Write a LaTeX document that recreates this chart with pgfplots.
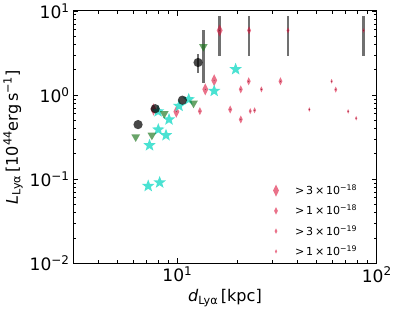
\documentclass[border=0pt]{standalone}
\usepackage{fontspec}
\setmainfont{DejaVu Sans}
\usepackage{pgfplots}
\pgfplotsset{compat=1.18}
\definecolor{crim}{RGB}{220,20,60}
\definecolor{turq}{RGB}{64,224,208}
\definecolor{grn}{RGB}{25,115,25}
\definecolor{dotc}{RGB}{110,20,40}
\pgfdeclareplotmark{fstar}{%
 \pgfpathmoveto{\pgfpointpolar{90}{\pgfplotmarksize}}%
 \pgfpathlineto{\pgfpointpolar{126}{0.42\pgfplotmarksize}}%
 \pgfpathlineto{\pgfpointpolar{162}{\pgfplotmarksize}}%
 \pgfpathlineto{\pgfpointpolar{198}{0.42\pgfplotmarksize}}%
 \pgfpathlineto{\pgfpointpolar{234}{\pgfplotmarksize}}%
 \pgfpathlineto{\pgfpointpolar{270}{0.42\pgfplotmarksize}}%
 \pgfpathlineto{\pgfpointpolar{306}{\pgfplotmarksize}}%
 \pgfpathlineto{\pgfpointpolar{342}{0.42\pgfplotmarksize}}%
 \pgfpathlineto{\pgfpointpolar{18}{\pgfplotmarksize}}%
 \pgfpathlineto{\pgfpointpolar{54}{0.42\pgfplotmarksize}}%
 \pgfpathclose
 \pgfusepathqfill}
\pgfplotsset{
 dia/.style={only marks, mark=diamond*, color=crim, mark options={xscale=0.65, draw opacity=0, fill=crim, fill opacity=0.6}},
}
\begin{document}
\begin{tikzpicture}
\begin{axis}[
 xmode=log, ymode=log,
 scale only axis, width=302pt, height=251pt,
 xmin=3, xmax=100, ymin=0.01, ymax=10,
 xtick={10,100}, xticklabels={10\textsuperscript{1},10\textsuperscript{2}},
 minor xtick={3,4,5,6,7,8,9,20,30,40,50,60,70,80,90},
 ytick={0.01,0.1,1,10}, yticklabels={10\textsuperscript{−2},10\textsuperscript{−1},10\textsuperscript{0},10\textsuperscript{1}},
 minor ytick={0.02,0.03,0.04,0.05,0.06,0.07,0.08,0.09,0.2,0.3,0.4,0.5,0.6,0.7,0.8,0.9,2,3,4,5,6,7,8,9},
 tick label style={font=\fontsize{17}{20}\selectfont},
 label style={font=\fontsize{16}{19}\selectfont},
 xlabel={\textit{d}\textsubscript{Lyα}\,[kpc]},
 ylabel={\textit{L}\textsubscript{Lyα}\,[10\textsuperscript{44}erg\,s\textsuperscript{−1}]},
 axis line style={line width=1pt},
 tick style={black, line width=0.8pt},
 major tick length=5pt, minor tick length=3pt,
 legend style={draw=none, fill=none, at={(0.648,0.008)}, anchor=south west,
   font=\fontsize{11}{13}\selectfont, row sep=5pt},
 legend cell align=left,
]
% error bars
\addplot[forget plot, draw=black!70, draw opacity=0.8, line width=2.5pt] coordinates {(16.3,2.92) (16.3,8.8)};
\addplot[forget plot, draw=black!70, draw opacity=0.8, line width=2.5pt] coordinates {(22.9,2.92) (22.9,8.8)};
\addplot[forget plot, draw=black!70, draw opacity=0.8, line width=2.5pt] coordinates {(35.9,2.92) (35.9,8.8)};
\addplot[forget plot, draw=black!70, draw opacity=0.8, line width=2.5pt] coordinates {(85.9,2.92) (85.9,8.8)};
\addplot[forget plot, draw=black!70, draw opacity=0.8, line width=2.5pt] coordinates {(12.7,1.85) (12.7,3.06)};
\addplot[forget plot, draw=black!70, draw opacity=0.8, line width=2.5pt] coordinates {(13.5,1.41) (13.5,5.98)};
% diamonds
\addplot[forget plot, dia, mark size=6pt]
 coordinates {(16.3,5.87) (13.8,1.17) (15.3,1.50) (9.88,0.634) (7.59,0.674)};
\addplot[forget plot, dia, mark size=4pt]
 coordinates {(22.9,5.87) (12.97,0.644) (18.4,0.674) (20.8,0.513) (20.8,1.17) (22.8,1.46) (32.9,1.46)};
\addplot[forget plot, dia, mark size=3pt]
 coordinates {(35.9,5.87) (26.4,1.17) (23.2,0.644) (24.4,0.66) (62.3,1.16)};
\addplot[forget plot, dia, mark size=2.3pt]
 coordinates {(85.9,5.87) (59.4,1.46) (45.9,0.674) (71.9,0.64) (78.9,0.53)};
\addplot[forget plot, only marks, color=dotc, mark=*, mark size=0.5pt, mark options={draw opacity=0, fill=dotc, fill opacity=0.8}]
 coordinates {(16.3,5.87) (13.8,1.17) (15.3,1.50) (9.88,0.634) (7.59,0.674)
 (22.9,5.87) (12.97,0.644) (18.4,0.674) (20.8,0.513) (20.8,1.17) (22.8,1.46) (32.9,1.46)
 (35.9,5.87) (26.4,1.17) (23.2,0.644) (24.4,0.66) (62.3,1.16)
 (85.9,5.87) (59.4,1.46) (45.9,0.674) (71.9,0.64) (78.9,0.53)};
% stars
\addplot[forget plot, only marks, color=turq, mark=fstar, mark size=6.5pt, mark options={fill=turq, fill opacity=0.95}]
 coordinates {(7.14,0.083) (8.15,0.0914) (7.25,0.253) (8.02,0.389) (8.77,0.333) (9.08,0.513) (8.0,0.64) (10.2,0.743) (11.4,0.89) (15.3,1.12) (19.6,2.03)};
% triangles
\addplot[forget plot, only marks, color=grn, mark=triangle*, mark size=5pt, mark options={rotate=180, draw opacity=0, fill=grn, fill opacity=0.65}]
 coordinates {(6.18,0.318) (7.45,0.333) (8.59,0.60) (12.05,0.80) (13.5,3.78)};
% circles
\addplot[forget plot, only marks, color=black, mark=*, mark size=4.6pt, mark options={draw opacity=0, fill=black, fill opacity=0.72}]
 coordinates {(6.35,0.446) (7.74,0.689) (10.6,0.87) (12.7,2.44)};
% legend
\addlegendimage{dia, mark size=6pt}
\addlegendentry{\hspace{14pt}>\,3\,×\,10\textsuperscript{−18}}
\addlegendimage{dia, mark size=3.8pt}
\addlegendentry{\hspace{14pt}>\,1\,×\,10\textsuperscript{−18}}
\addlegendimage{dia, mark size=2.8pt}
\addlegendentry{\hspace{14pt}>\,3\,×\,10\textsuperscript{−19}}
\addlegendimage{dia, mark size=2.2pt}
\addlegendentry{\hspace{14pt}>\,1\,×\,10\textsuperscript{−19}}
\end{axis}
\end{tikzpicture}
\end{document}
